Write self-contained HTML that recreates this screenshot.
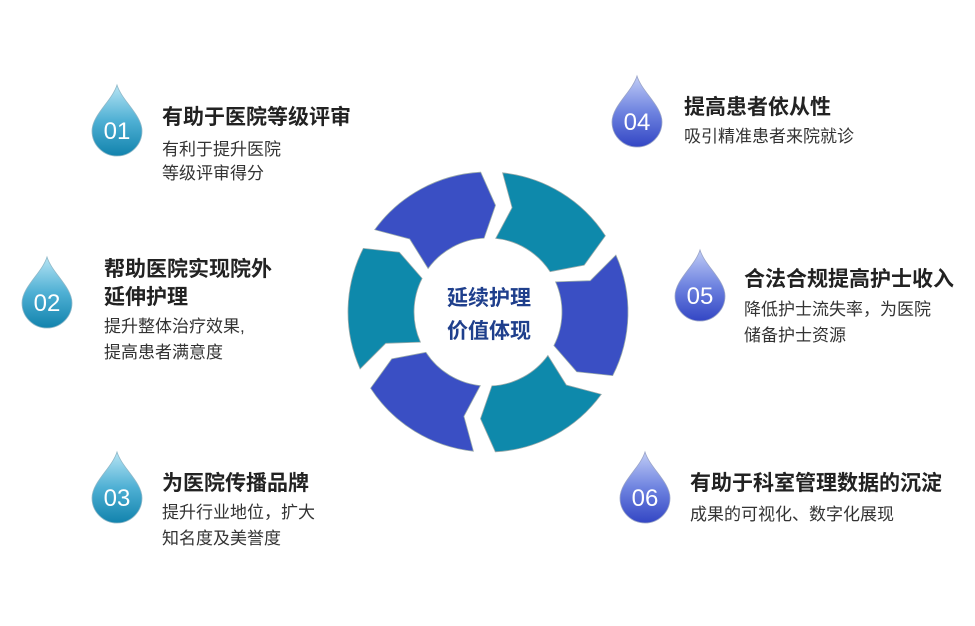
<!DOCTYPE html>
<html><head><meta charset="utf-8"><style>
html,body{margin:0;padding:0;background:#fff;width:975px;height:626px;overflow:hidden;}
body{position:relative;font-family:"Liberation Sans","Noto Sans CJK SC",sans-serif;}
.t{position:absolute;font-size:21px;font-weight:bold;color:#222;line-height:28px;white-space:nowrap;}
.s{position:absolute;font-size:17px;color:#333;line-height:26px;white-space:nowrap;}
svg{position:absolute;left:0;top:0;}
</style></head><body>
<svg width="975" height="626" id="sv">
<defs>
<linearGradient id="gt" x1="0" y1="0" x2="0" y2="1"><stop offset="0" stop-color="#b6e4f4"/><stop offset="0.5" stop-color="#4fb0d4"/><stop offset="1" stop-color="#1283ad"/></linearGradient>
<linearGradient id="gb" x1="0" y1="0" x2="0" y2="1"><stop offset="0" stop-color="#c0ccf6"/><stop offset="0.5" stop-color="#6f84e0"/><stop offset="1" stop-color="#3346c4"/></linearGradient>
<path id="drop" d="M25 0 C30 16 50 30 50 46 A25 25 0 0 1 0 46 C0 30 20 16 25 0Z"/>
</defs>
<g id="ring"></g>
<g font-family="Liberation Sans, sans-serif" font-size="24" fill="#fff" text-anchor="middle">
<g transform="translate(92,85)"><use href="#drop" fill="url(#gt)" stroke="#8fb8c8" stroke-width="0.8"/><text x="25" y="54">01</text></g>
<g transform="translate(22,257)"><use href="#drop" fill="url(#gt)" stroke="#8fb8c8" stroke-width="0.8"/><text x="25" y="54">02</text></g>
<g transform="translate(92,452)"><use href="#drop" fill="url(#gt)" stroke="#8fb8c8" stroke-width="0.8"/><text x="25" y="54">03</text></g>
<g transform="translate(612,76)"><use href="#drop" fill="url(#gb)" stroke="#9aa4c8" stroke-width="0.8"/><text x="25" y="54">04</text></g>
<g transform="translate(675,250)"><use href="#drop" fill="url(#gb)" stroke="#9aa4c8" stroke-width="0.8"/><text x="25" y="54">05</text></g>
<g transform="translate(620,452)"><use href="#drop" fill="url(#gb)" stroke="#9aa4c8" stroke-width="0.8"/><text x="25" y="54">06</text></g>
</g>
<g font-family="Liberation Sans, Noto Sans CJK SC, sans-serif" font-size="21" font-weight="bold" fill="#1f3f8c" text-anchor="middle">
<text x="489" y="305">延续护理</text>
<text x="489" y="338">价值体现</text>
</g>
</svg>
<div class="t" style="left:162px;top:104px">有助于医院等级评审</div>
<div class="s" style="left:162px;top:137px">有利于提升医院</div>
<div class="s" style="left:162px;top:161px">等级评审得分</div>

<div class="t" style="left:104px;top:256px">帮助医院实现院外</div>
<div class="t" style="left:104px;top:284px">延伸护理</div>
<div class="s" style="left:104px;top:314px">提升整体治疗效果,</div>
<div class="s" style="left:104px;top:340px">提高患者满意度</div>

<div class="t" style="left:162px;top:470px">为医院传播品牌</div>
<div class="s" style="left:162px;top:500px">提升行业地位，扩大</div>
<div class="s" style="left:162px;top:526px">知名度及美誉度</div>

<div class="t" style="left:684px;top:94px">提高患者依从性</div>
<div class="s" style="left:684px;top:124px">吸引精准患者来院就诊</div>

<div class="t" style="left:744px;top:266px">合法合规提高护士收入</div>
<div class="s" style="left:744px;top:297px">降低护士流失率，为医院</div>
<div class="s" style="left:744px;top:323px">储备护士资源</div>

<div class="t" style="left:690px;top:470px">有助于科室管理数据的沉淀</div>
<div class="s" style="left:690px;top:502px">成果的可视化、数字化展现</div>

<script>
(function(){
var cx=488,cy=312,R=140,r=74,g=document.getElementById('ring');
var cols=['#3a4fc4','#0e89ab'];
function p(a,rad){a=a*Math.PI/180;return (cx+rad*Math.cos(a)).toFixed(1)+','+(cy+rad*Math.sin(a)).toFixed(1);}
for(var i=0;i<6;i++){
 var c=3+60*i,a0=c-27,a1=c+24,m=(R+r)/2,n=7;
 var d='M'+p(a0,R)+' A'+R+','+R+' 0 0 1 '+p(a1,R)+' L'+p(a1+n,m)+' L'+p(a1,r)+
   ' A'+r+','+r+' 0 0 0 '+p(a0,r)+' L'+p(a0+n,m)+' Z';
 var e=document.createElementNS('http://www.w3.org/2000/svg','path');
 e.setAttribute('d',d);e.setAttribute('fill',cols[i%2]);e.setAttribute('stroke','#9aa');e.setAttribute('stroke-width','0.8');
 g.appendChild(e);
}
})();
</script>
</body></html>
